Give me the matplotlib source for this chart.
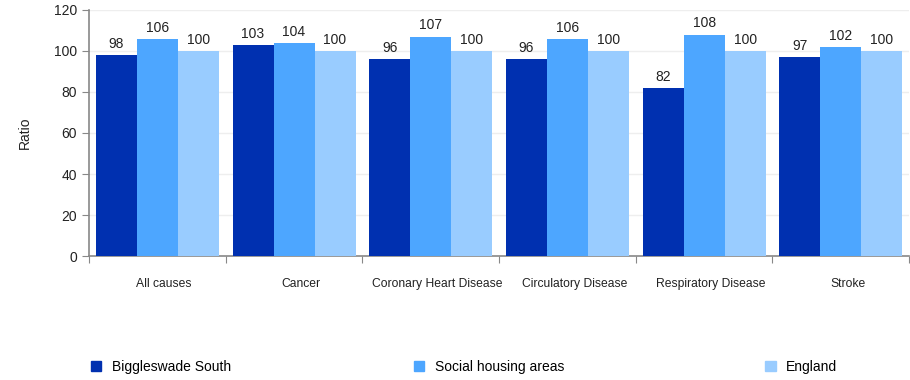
import numpy as np
import matplotlib.pyplot as plt
from matplotlib.patches import Patch

plt.rcParams['font.family'] = ['Liberation Sans', 'DejaVu Sans']

categories = ['All causes', 'Cancer', 'Coronary Heart Disease',
              'Circulatory Disease', 'Respiratory Disease', 'Stroke']
biggleswade = [98, 103, 96, 96, 82, 97]
social_housing = [106, 104, 107, 106, 108, 102]
england = [100, 100, 100, 100, 100, 100]

series_names = ['Biggleswade South', 'Social housing areas', 'England']
colors = ['#0030b0', '#4da6ff', '#99ccff']

fig = plt.figure(figsize=(9.1, 3.8), dpi=100)
ax = fig.add_axes([0.0978, 0.326, 0.9012, 0.648])

x = np.arange(len(categories))
width = 0.3
for i, (vals, col) in enumerate(zip([biggleswade, social_housing, england], colors)):
    pos = x + (i - 1) * width
    bars = ax.bar(pos, vals, width, color=col, zorder=3)
    for b, v in zip(bars, vals):
        ax.text(b.get_x() + b.get_width() / 2, v + 2, str(v), ha='center',
                va='bottom', fontsize=10, color='#222222')

ax.set_xlim(-0.5, len(categories) - 0.5)
ax.set_ylim(0, 120)
ax.set_yticks(range(0, 121, 20))
ax.grid(axis='y', color='#eeeeee', linewidth=1, zorder=0)

# ticks at group boundaries, labels at centres (drawn a touch to the right)
ax.set_xticks(np.arange(len(categories) + 1) - 0.5)
ax.set_xticklabels([])
ax.set_xticks(x + 0.05, minor=True)
ax.set_xticklabels(categories, minor=True, fontsize=8.7, color='#222222')
ax.tick_params(axis='x', which='minor', length=0, pad=16)
ax.tick_params(axis='x', which='major', length=5, color='#888888')
ax.tick_params(axis='y', length=5, color='#888888', labelsize=10, labelcolor='#222222')

for s in ['top', 'right']:
    ax.spines[s].set_visible(False)
for s in ['left', 'bottom']:
    ax.spines[s].set_color('#888888')
    ax.spines[s].set_linewidth(1.2)

ax.set_ylabel('Ratio', fontsize=10, color='#222222', labelpad=16)

legend_x = [0.1, 0.455, 0.841]
for name, col, lx in zip(series_names, colors, legend_x):
    leg = fig.legend(handles=[Patch(color=col)], labels=[name], loc='center left',
                     bbox_to_anchor=(lx, 0.034), frameon=False, fontsize=10,
                     handlelength=0.75, handleheight=0.75, handletextpad=0.75,
                     borderaxespad=0, borderpad=0)

fig.savefig('out.png', dpi=100)
